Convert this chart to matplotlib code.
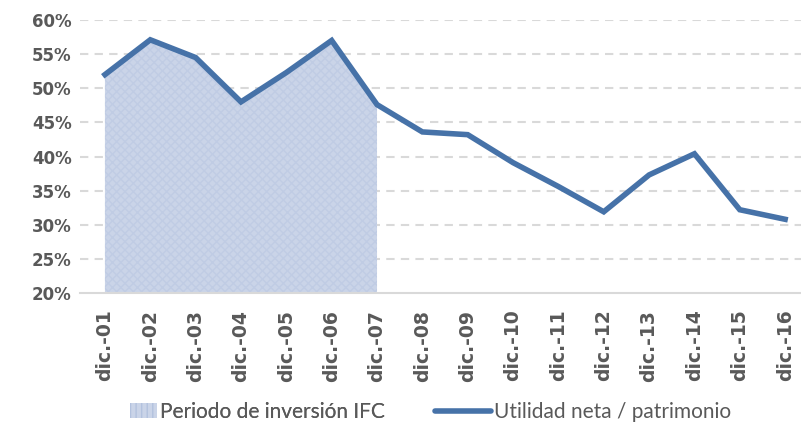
import matplotlib
matplotlib.use("Agg")
import matplotlib.pyplot as plt
from matplotlib.patches import Patch
from matplotlib.lines import Line2D
from matplotlib.ticker import PercentFormatter

categories = ["dic.-01", "dic.-02", "dic.-03", "dic.-04", "dic.-05", "dic.-06", "dic.-07",
              "dic.-08", "dic.-09", "dic.-10", "dic.-11", "dic.-12", "dic.-13", "dic.-14",
              "dic.-15", "dic.-16"]
roe = [52.0, 57.1, 54.5, 48.0, 52.3, 57.0, 47.6, 43.6, 43.2, 39.1, 35.6, 31.9, 37.3, 40.4, 32.2, 30.8]
ifc_period_end = 6  # index of dic.-07
yticks = [20, 25, 30, 35, 40, 45, 50, 55, 60]

line_color = "#4672a8"
fill_color = "#cad4e8"
hatch_color = "#c0cce4"
text_color = "#595959"

fig = plt.figure(figsize=(8.01, 4.25), dpi=100)
ax = fig.add_axes([80 / 801, 1 - 293 / 425, 1 - 80 / 801, (293 - 20) / 425])

x = list(range(len(categories)))
ax.fill_between(x[:ifc_period_end + 1], 20, roe[:ifc_period_end + 1],
                facecolor=fill_color, edgecolor=hatch_color, hatch="xxxx", linewidth=0, zorder=1)
ax.plot(x, roe, color=line_color, linewidth=4, solid_joinstyle="miter", zorder=3)

ax.set_ylim(20, 60)
ax.set_xlim(-0.55, 15.35)
ax.set_yticks(yticks)
ax.yaxis.set_major_formatter(PercentFormatter(decimals=0))
ax.set_xticks(x)
ax.set_xticklabels(categories, rotation=90)
for lab in ax.get_xticklabels():
    lab.set_fontweight("bold")
    lab.set_color(text_color)
    lab.set_fontsize(13.5)
for lab in ax.get_yticklabels():
    lab.set_fontweight("bold")
    lab.set_color(text_color)
    lab.set_fontsize(12)
ax.tick_params(axis="both", length=0)
ax.tick_params(axis="x", pad=12)
ax.tick_params(axis="y", pad=6)

for y in yticks[1:]:
    ax.axhline(y, color="#d9d9d9", linewidth=1.5, linestyle=(0, (4, 3)), zorder=0)
for s in ["top", "right", "left"]:
    ax.spines[s].set_visible(False)
ax.spines["bottom"].set_color("#d9d9d9")
ax.spines["bottom"].set_linewidth(1.5)

legend_y = 1 - 412 / 425
fs = 15
leg1 = fig.legend(handles=[Patch(facecolor=fill_color, edgecolor="#b3c2de", hatch="|||", linewidth=0,
                                 label="Periodo de inversión IFC")],
                  loc="center left", bbox_to_anchor=(130 / 801, legend_y), frameon=False,
                  prop={"family": "Lato", "size": fs}, handlelength=1.3, handleheight=0.75,
                  handletextpad=0.15, borderpad=0, borderaxespad=0, labelcolor=text_color)
fig.add_artist(leg1)
fig.legend(handles=[Line2D([0], [0], color=line_color, linewidth=4, solid_capstyle="round",
                           label="Utilidad neta / patrimonio")],
           loc="center left", bbox_to_anchor=(435 / 801, legend_y), frameon=False,
           prop={"family": "Lato", "size": fs}, handlelength=2.7,
           handletextpad=0.15, borderpad=0, borderaxespad=0, labelcolor=text_color)

fig.savefig("out.png", dpi=100)
